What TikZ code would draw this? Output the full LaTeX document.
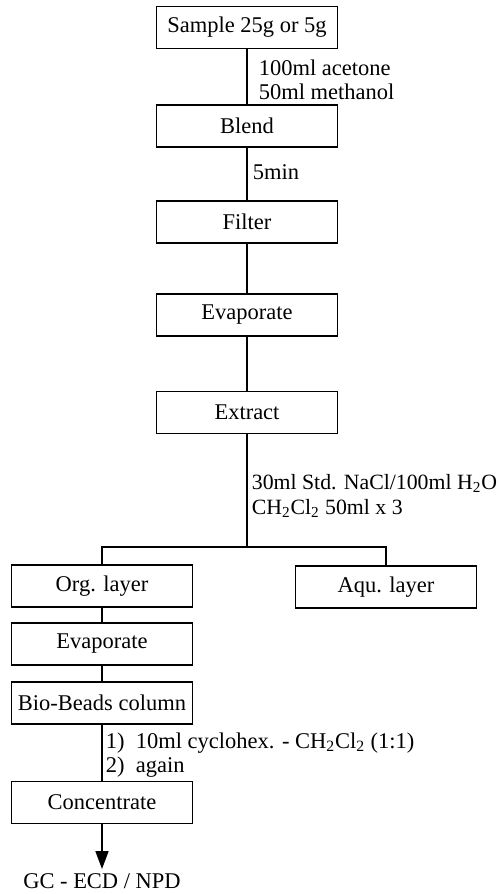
\documentclass[tikz,border=0pt]{standalone}
\usepackage{fontspec}
\setmainfont{Liberation Serif}
\usetikzlibrary{arrows.meta}

\begin{document}
\begin{tikzpicture}[x=0.02cm, y=-0.02cm, line width=1pt,
    font=\fontsize{12.8}{13.5}\selectfont,
    stepbox/.style={draw, minimum width=3.62cm, minimum height=0.84cm, inner sep=2pt},
    note/.style={anchor=west, align=left, inner sep=0pt}]
    \useasboundingbox (0,0) rectangle (500,894);

    % main column
    \node[stepbox] (sample) at (247,27.5) {Sample 25g or 5g};
    \node[stepbox] (blend) at (247,126) {Blend};
    \node[stepbox] (filter) at (247,222) {Filter};
    \node[stepbox] (evap) at (247,315) {Evaporate};
    \node[stepbox] (extract) at (247,412.5) {Extract};
    \coordinate (split) at (247,547);

    % the two layers
    \node[stepbox] (org) at (102,586) {Org. layer};
    \node[stepbox] (aqu) at (386,587) {Aqu. layer};

    % clean-up of the organic layer
    \node[stepbox] (evaptwo) at (102,644) {Evaporate};
    \node[stepbox] (biobeads) at (102,703) {Bio-Beads column};
    \node[stepbox] (conc) at (102,802.5) {Concentrate};
    \node[inner sep=2pt] (gc) at (102,881) {GC - ECD / NPD};

    \draw (sample) -- (blend);
    \draw (blend) -- (filter);
    \draw (filter) -- (evap);
    \draw (evap) -- (extract);
    \draw (extract) -- (split);
    \draw (split) -| (org);
    \draw (split) -| (aqu);
    \draw (org) -- (evaptwo);
    \draw (evaptwo) -- (biobeads);
    \draw (biobeads) -- (conc);
    \draw[-{Triangle[length=3.6mm, width=2.6mm]}] (conc) -- (gc);

    % conditions beside the lines
    \node[note] (solvent) at (258,80) {100ml acetone\\50ml methanol};
    \node[note] (time) at (252,172) {5min};
    \node[note, font=\fontsize{12.4}{13.5}\selectfont] (salt) at (251,496) {30ml Std. NaCl/100ml H\textsubscript{2}O\\[1pt]CH\textsubscript{2}Cl\textsubscript{2} 50ml x 3};
    \node[note] (elute) at (105,755) {1)\enspace 10ml cyclohex. - CH\textsubscript{2}Cl\textsubscript{2} (1:1)\\2)\enspace again};
\end{tikzpicture}
\end{document}
